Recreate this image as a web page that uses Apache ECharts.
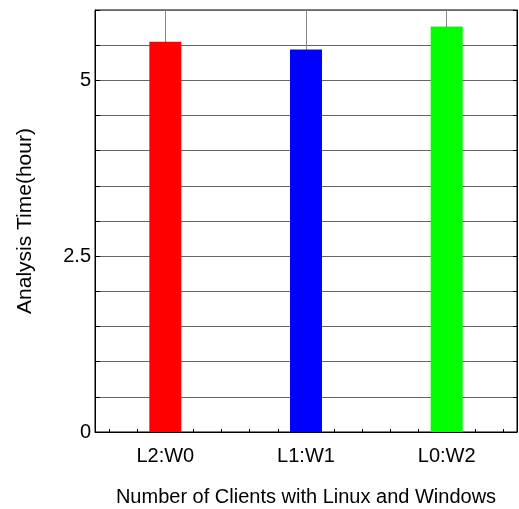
<!DOCTYPE html>
<html>
<head>
<meta charset="utf-8">
<script src="https://cdn.jsdelivr.net/npm/echarts@6/dist/echarts.min.js"></script>
<style>html,body{margin:0;padding:0;background:#fff;}#c{width:519px;height:509px;}</style>
</head>
<body>
<div id="c"></div>
<script>
const categories = ['L2:W0', 'L1:W1', 'L0:W2'];
const values = [5.55, 5.44, 5.765];
const barColors = ['#ff0000', '#0000ff', '#00ff00'];
const yLabels = [0, 2.5, 5];
const minorTickSlots = Array.from({length: 15}, (_, i) => String(i));

const chart = echarts.init(document.getElementById('c'), null, {renderer: 'canvas'});
const font = 'Liberation Sans, Arial, Helvetica, sans-serif';
chart.setOption({
  animation: false,
  backgroundColor: '#fff',
  grid: {left: 95, right: 2, top: 10, bottom: 77, show: true, borderColor: '#000', borderWidth: 1,
    backgroundColor: 'transparent', containLabel: false, outerBoundsMode: 'none'},
  xAxis: [
    {
      type: 'category', data: categories, position: 'bottom',
      axisLine: {show: true, lineStyle: {color: '#000', width: 1}},
      axisTick: {show: false},
      axisLabel: {color: '#000', fontSize: 20, fontFamily: font, margin: 14},
      splitLine: {show: false},
      name: 'Number of Clients with Linux and Windows', nameLocation: 'middle', nameGap: 55,
      nameTextStyle: {color: '#000', fontSize: 20, fontFamily: font}
    },
    {
      type: 'category', data: minorTickSlots, position: 'bottom', gridIndex: 0,
      axisLine: {show: false},
      axisTick: {show: true, inside: true, alignWithLabel: true, length: 3, lineStyle: {color: '#000'}},
      axisLabel: {show: false},
      splitLine: {show: false}
    }
  ],
  yAxis: [
    {
      type: 'value', min: 0, max: 6, interval: 0.5, position: 'left',
      axisLine: {show: true, lineStyle: {color: '#000', width: 1}},
      axisTick: {show: true, inside: true, length: 5, lineStyle: {color: '#000'}},
      axisLabel: {color: '#000', fontSize: 20, fontFamily: font, margin: 4,
        formatter: v => yLabels.indexOf(v) >= 0 ? String(v) : ''},
      splitLine: {show: true, lineStyle: {color: '#666', width: 1}},
      name: 'Analysis Time(hour)', nameLocation: 'middle', nameGap: 59,
      nameTextStyle: {color: '#000', fontSize: 21, fontFamily: font}
    },
    {
      type: 'value', min: 0, max: 6, interval: 0.5, position: 'right',
      axisLine: {show: true, lineStyle: {color: '#000', width: 1}},
      axisTick: {show: true, inside: true, length: 4, lineStyle: {color: '#000'}},
      axisLabel: {show: false},
      splitLine: {show: false}
    }
  ],
  series: [
    {
      type: 'line', data: [], xAxisIndex: 0, yAxisIndex: 0, z: 1, silent: true,
      markLine: {
        z: 1, silent: true, symbol: 'none', label: {show: false},
        lineStyle: {color: '#888', type: 'solid', width: 1},
        data: categories.map(c => ({xAxis: c}))
      }
    },
    {
      type: 'bar', xAxisIndex: 0, yAxisIndex: 0, barWidth: 32, z: 3,
      data: values.map((v, i) => ({value: v, itemStyle: {color: barColors[i]}}))
    }
  ]
});
</script>
</body>
</html>
